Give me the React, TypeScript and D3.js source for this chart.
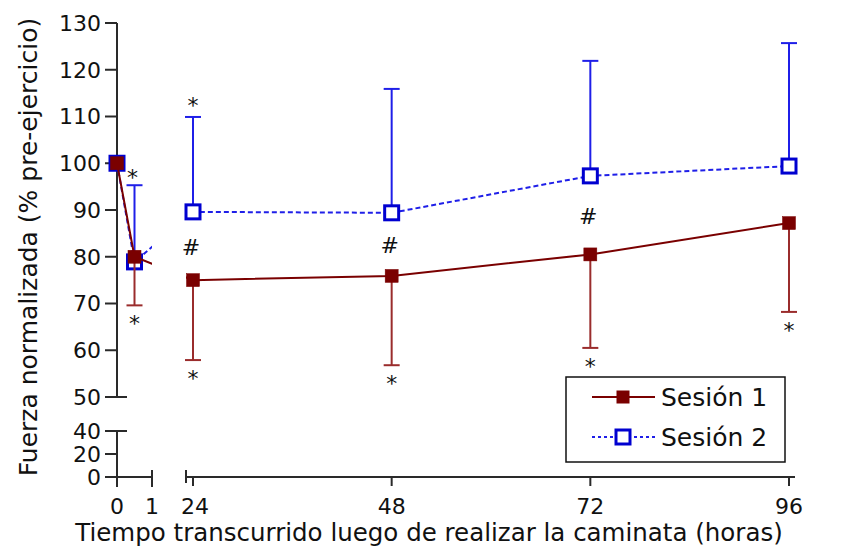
import React from "react";
import * as d3 from "d3";

// ---------- data ----------
const times = [0, 0.5, 24, 48, 72, 96];
const session1 = [100, 80, 75, 75.9, 80.5, 87.2];
const session1Low = [null, 69.6, 57.9, 56.8, 60.5, 68.2];
const session2 = [100, 78.9, 89.6, 89.4, 97.3, 99.4];
const session2High = [null, 95.3, 109.9, 115.9, 121.9, 125.7];
const seriesNames = ["Sesión 1", "Sesión 2"];
const yTicksUpper = [50, 60, 70, 80, 90, 100, 110, 120, 130];
const yTicksLower = [0, 20, 40];
const xTicksEarly = [0, 1];
const xTicksLate = [24, 48, 72, 96];
const starsBelowS1 = [0.5, 24, 48, 72, 96];
const starsAboveS2 = [0.5, 24];
const hashTimes = [24, 48, 72];
const xTitle = "Tiempo transcurrido luego de realizar la caminata (horas)";
const yTitle = "Fuerza normalizada (% pre-ejercicio)";

const W = 855;
const H = 546;
const FONT = "'DejaVu Sans', Verdana, sans-serif";

const yUp = d3.scaleLinear().domain([50, 130]).range([397, 23]);
const yLow = d3.scaleLinear().domain([0, 40]).range([477, 431]);
const xEarly = d3.scaleLinear().domain([0, 1]).range([117, 152]);
const xLate = d3.scaleLinear().domain([24, 96]).range([193, 789]);
const xPos = (t: number) => (t <= 1 ? xEarly(t) : xLate(t));

const RED = "#7a0000";
const RED_ERR = "#9a2c2c";
const BLUE = "#1f1fe8";
const BLUE_MK = "#0000d0";
const AX = "#2a2a2a";
const TXT = "#111";

export default function App() {
  const pts1 = times.map((t, i) => [xPos(t), yUp(session1[i])] as [number, number]);
  const pts2 = times.map((t, i) => [xPos(t), yUp(session2[i])] as [number, number]);
  const line = d3.line();
  const cap = 8;

  return (
    <svg
      width={W}
      height={H}
      style={{ position: "absolute", left: 0, top: 0, background: "#fff" }}
      fontFamily={FONT}
    >
      <defs>
        <clipPath id="gapclip">
          <rect x={0} y={0} width={xEarly(1)} height={H} />
          <rect x={186} y={0} width={W - 186} height={H} />
        </clipPath>
      </defs>
      <rect x={0} y={0} width={W} height={H} fill="#fff" />

      {/* Y axis upper */}
      <line x1={117} x2={117} y1={yUp(130)} y2={yUp(50)} stroke={AX} strokeWidth={2} />
      {yTicksUpper.map((v) => (
        <g key={"yu" + v}>
          <line x1={105} x2={v === 50 ? 127 : 117} y1={yUp(v)} y2={yUp(v)} stroke={AX} strokeWidth={2} />
          <text x={101} y={yUp(v)} dy="0.36em" textAnchor="end" fontSize={22} fill={TXT}>
            {v}
          </text>
        </g>
      ))}
      {/* Y axis lower */}
      <line x1={117} x2={117} y1={yLow(40)} y2={yLow(0)} stroke={AX} strokeWidth={2} />
      {yTicksLower.map((v) => (
        <g key={"yl" + v}>
          <line x1={105} x2={v === 40 ? 127 : 117} y1={yLow(v)} y2={yLow(v)} stroke={AX} strokeWidth={2} />
          <text x={101} y={yLow(v)} dy="0.36em" textAnchor="end" fontSize={22} fill={TXT}>
            {v}
          </text>
        </g>
      ))}

      {/* X axis early */}
      <line x1={117} x2={xEarly(1)} y1={477} y2={477} stroke={AX} strokeWidth={2} />
      {xTicksEarly.map((v) => (
        <g key={"xe" + v}>
          <line x1={xEarly(v)} x2={xEarly(v)} y1={v === 1 ? 470 : 477} y2={487} stroke={AX} strokeWidth={2} />
          <text x={xEarly(v)} y={506} dy="0.36em" textAnchor="middle" fontSize={22} fill={TXT}>
            {v}
          </text>
        </g>
      ))}
      {/* X axis late */}
      <line x1={186} x2={795} y1={477} y2={477} stroke={AX} strokeWidth={2} />
      <line x1={186} x2={186} y1={470} y2={483} stroke={AX} strokeWidth={2} />
      {xTicksLate.map((v) => (
        <g key={"xl" + v}>
          <line x1={xLate(v)} x2={xLate(v)} y1={477} y2={486} stroke={AX} strokeWidth={2} />
          <text x={xLate(v) + (v === 24 ? 2 : 0)} y={506} dy="0.36em" textAnchor="middle" fontSize={22} fill={TXT}>
            {v}
          </text>
        </g>
      ))}

      {/* Session 2 (blue) */}
      <g clipPath="url(#gapclip)">
        <path d={line(pts2) || ""} fill="none" stroke={BLUE} strokeWidth={2} strokeDasharray="5,3" />
      </g>
      {times.map((t, i) =>
        session2High[i] == null ? null : (
          <g key={"e2" + i}>
            <line x1={xPos(t)} x2={xPos(t)} y1={yUp(session2[i])} y2={yUp(session2High[i] as number)} stroke={BLUE} strokeWidth={2} />
            <line x1={xPos(t) - cap} x2={xPos(t) + cap} y1={yUp(session2High[i] as number)} y2={yUp(session2High[i] as number)} stroke={BLUE} strokeWidth={2} />
          </g>
        )
      )}
      {pts2.map(([x, y], i) => (
        <rect key={"m2" + i} x={x - 7} y={y - 7} width={14} height={14} fill="#fff" stroke={BLUE_MK} strokeWidth={3} />
      ))}

      {/* Session 1 (red) */}
      <g clipPath="url(#gapclip)">
        <path d={line(pts1) || ""} fill="none" stroke={RED} strokeWidth={2} />
      </g>
      {times.map((t, i) =>
        session1Low[i] == null ? null : (
          <g key={"e1" + i}>
            <line x1={xPos(t)} x2={xPos(t)} y1={yUp(session1[i])} y2={yUp(session1Low[i] as number)} stroke={RED_ERR} strokeWidth={2} />
            <line x1={xPos(t) - cap} x2={xPos(t) + cap} y1={yUp(session1Low[i] as number)} y2={yUp(session1Low[i] as number)} stroke={RED_ERR} strokeWidth={2} />
          </g>
        )
      )}
      {pts1.map(([x, y], i) => (
        <rect key={"m1" + i} x={x - 6.5} y={y - 6.5} width={13} height={13} fill={RED} stroke={RED} strokeWidth={0.5} />
      ))}

      {/* Annotations */}
      {starsBelowS1.map((t) => {
        const i = times.indexOf(t);
        return (
          <text key={"sb" + t} x={xPos(t)} y={yUp(session1Low[i] as number) + 26} textAnchor="middle" fontSize={22} fill={TXT}>
            *
          </text>
        );
      })}
      {starsAboveS2.map((t) => {
        const i = times.indexOf(t);
        const x = t === 0.5 ? xPos(t) - 2 : xPos(t);
        const yy = t === 0.5 ? yUp(session2High[i] as number) - 12 : yUp(session2High[i] as number) - 16;
        return (
          <text key={"sa" + t} x={x} y={yy + 12} textAnchor="middle" fontSize={22} fill={TXT}>
            *
          </text>
        );
      })}
      {hashTimes.map((t) => {
        const i = times.indexOf(t);
        const mid = (yUp(session1[i]) + yUp(session2[i])) / 2;
        return (
          <text key={"h" + t} x={xPos(t) - 2} y={mid + 1 + 8} textAnchor="middle" fontSize={22} fill={TXT}>
            #
          </text>
        );
      })}

      {/* Legend */}
      <rect x={566} y={377} width={219} height={85} fill="#fff" stroke="#111" strokeWidth={1.5} />
      <line x1={592} x2={655} y1={397} y2={397} stroke={RED} strokeWidth={2} />
      <rect x={623 - 6.5} y={397 - 6.5} width={13} height={13} fill={RED} />
      <text x={661} y={397} dy="0.36em" fontSize={25} fill={TXT}>
        {seriesNames[0]}
      </text>
      <line x1={592} x2={655} y1={437} y2={437} stroke={BLUE} strokeWidth={2} strokeDasharray="3,3" />
      <rect x={623 - 7} y={437 - 7} width={14} height={14} fill="#fff" stroke={BLUE_MK} strokeWidth={3} />
      <text x={661} y={437} dy="0.36em" fontSize={25} fill={TXT}>
        {seriesNames[1]}
      </text>

      {/* Titles */}
      <text x={429} y={541} textAnchor="middle" fontSize={24.5} fill={TXT}>
        {xTitle}
      </text>
      <text transform={`translate(37,247) rotate(-90)`} textAnchor="middle" fontSize={25} fill={TXT}>
        {yTitle}
      </text>
    </svg>
  );
}
